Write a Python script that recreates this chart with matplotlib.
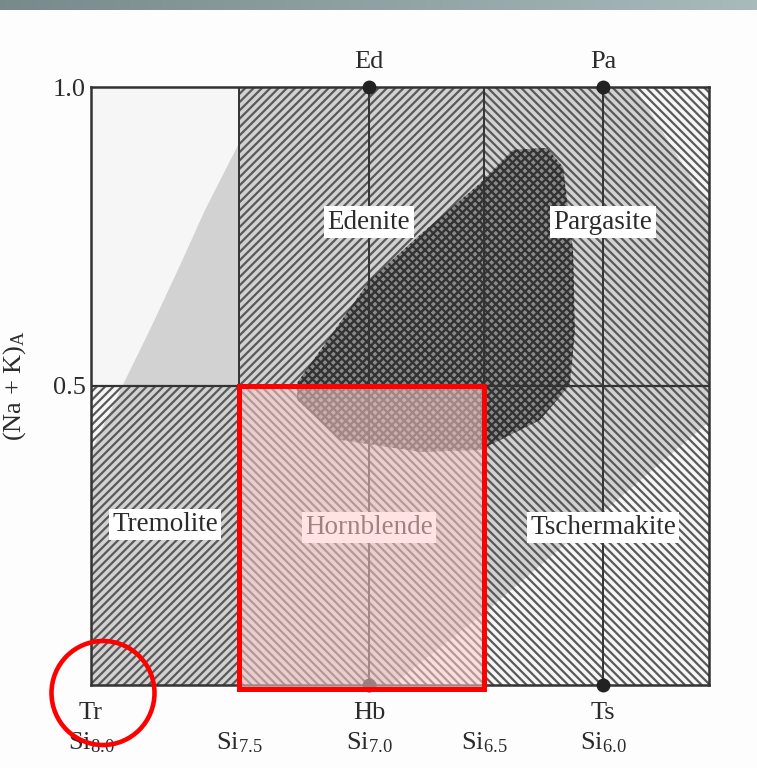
import numpy as np
import matplotlib
matplotlib.use("Agg")
import matplotlib.pyplot as plt
from matplotlib.patches import Rectangle, Polygon, Ellipse

# ---------------- data ----------------
field_names = ["Tremolite", "Hornblende", "Tschermakite", "Edenite", "Pargasite"]
field_si_hi = [8.0, 7.5, 6.5, 7.5, 6.5]
field_si_lo = [7.5, 6.5, 5.5, 6.5, 5.5]
field_nak_lo = [0.0, 0.0, 0.0, 0.5, 0.5]
field_nak_hi = [0.5, 0.5, 0.5, 1.0, 1.0]
field_label_si = [7.75, 7.0, 6.0, 7.0, 6.0]
field_label_nak = [0.268, 0.263, 0.263, 0.774, 0.774]

end_names = ["Tr", "Hb", "Ts", "Ed", "Pa"]
end_si = [8.0, 7.0, 6.0, 7.0, 6.0]
end_nak = [0.0, 0.0, 0.0, 1.0, 1.0]
end_dot = [False, True, True, True, True]

si_tick_vals = [8.0, 7.5, 7.0, 6.5, 6.0]
si_tick_text = ["8.0", "7.5", "7.0", "6.5", "6.0"]
nak_tick_vals = [0.5, 1.0]
nak_tick_text = ["0.5", "1.0"]

# light grey compositional field
light_si = [8.0, 8.0, 7.892, 7.801, 7.699, 7.615, 7.5, 7.5, 5.85, 5.5, 5.5, 6.5, 6.90]
light_nak = [0.0, 0.39, 0.502, 0.594, 0.702, 0.794, 0.906, 1.0, 1.0, 0.80, 0.44, 0.12, 0.0]
# dark compositional field
dark_si = [7.277, 7.277, 7.131, 6.996, 6.778, 6.517, 6.378, 6.235, 6.168, 6.126,
           6.118, 6.139, 6.265, 6.517, 6.778, 7.112]
dark_nak = [0.477, 0.505, 0.594, 0.677, 0.753, 0.839, 0.895, 0.898, 0.866, 0.727,
            0.594, 0.502, 0.443, 0.393, 0.390, 0.410]

# ---------------- style ----------------
plt.rcParams["font.family"] = ["Liberation Serif", "DejaVu Serif"]
plt.rcParams["mathtext.fontset"] = "custom"
plt.rcParams["mathtext.rm"] = "Liberation Serif"
plt.rcParams["mathtext.it"] = "Liberation Serif:italic"
plt.rcParams["hatch.linewidth"] = 1.6

TXT = "#2b2b2b"
LINE = "#333333"

# non-uniform Si axis (as drawn in the original scan)
SI_KNOTS = np.array([5.5, 6.0, 6.5, 7.0, 7.5, 8.0])
POS_KNOTS = np.array([0.0, 106.0, 225.0, 340.0, 470.0, 618.0])


def fwd(x):
    x = np.asarray(x, dtype=float)
    y = np.interp(x, SI_KNOTS, POS_KNOTS)
    s0 = (POS_KNOTS[1] - POS_KNOTS[0]) / (SI_KNOTS[1] - SI_KNOTS[0])
    s1 = (POS_KNOTS[-1] - POS_KNOTS[-2]) / (SI_KNOTS[-1] - SI_KNOTS[-2])
    y = np.where(x < SI_KNOTS[0], POS_KNOTS[0] + (x - SI_KNOTS[0]) * s0, y)
    y = np.where(x > SI_KNOTS[-1], POS_KNOTS[-1] + (x - SI_KNOTS[-1]) * s1, y)
    return y


def inv(p):
    p = np.asarray(p, dtype=float)
    x = np.interp(p, POS_KNOTS, SI_KNOTS)
    s0 = (SI_KNOTS[1] - SI_KNOTS[0]) / (POS_KNOTS[1] - POS_KNOTS[0])
    s1 = (SI_KNOTS[-1] - SI_KNOTS[-2]) / (POS_KNOTS[-1] - POS_KNOTS[-2])
    x = np.where(p < POS_KNOTS[0], SI_KNOTS[0] + (p - POS_KNOTS[0]) * s0, x)
    x = np.where(p > POS_KNOTS[-1], SI_KNOTS[-1] + (p - POS_KNOTS[-1]) * s1, x)
    return x


fig = plt.figure(figsize=(7.57, 7.68), dpi=100)
fig.patch.set_facecolor("#fdfdfd")

# top grey banner
band = fig.add_axes([0, 1 - 10 / 768, 1, 10 / 768])
grad = np.linspace(0, 1, 256)
c0 = np.array([0.47, 0.54, 0.55])
c1 = np.array([0.66, 0.73, 0.74])
img = (c0[None, :] * (1 - grad[:, None]) + c1[None, :] * grad[:, None])[None, :, :]
band.imshow(img, aspect="auto", extent=[0, 1, 0, 1])
band.axis("off")

ax = fig.add_axes([91 / 757, 83 / 768, 618 / 757, 598 / 768])
ax.set_xscale("function", functions=(fwd, inv))
ax.set_xlim(8.0, 5.5)
ax.set_ylim(0.0, 1.0)
ax.set_facecolor("#f6f6f6")

# compositional fields
ax.add_patch(Polygon(np.column_stack([light_si, light_nak]), closed=True,
                     facecolor="#d2d2d2", edgecolor="none", zorder=1))

# hatched classification fields
hatches = ["////", "\\\\\\\\", "\\\\\\\\", "////", "\\\\\\\\"]
for lo, hi, ylo, yhi, h in zip(field_si_lo, field_si_hi, field_nak_lo, field_nak_hi, hatches):
    ax.add_patch(Rectangle((hi, ylo), lo - hi, yhi - ylo, facecolor="none",
                           edgecolor="#5a5a5a", linewidth=0, hatch=h, zorder=2))

ax.add_patch(Polygon(np.column_stack([dark_si, dark_nak]), closed=True,
                     facecolor=(0.2, 0.2, 0.2, 0.45), edgecolor="#333333",
                     linewidth=0, hatch="xxxx", zorder=3))

# boundary lines
for v in [7.5, 7.0, 6.5, 6.0]:
    ax.axvline(v, color=LINE, lw=1.4, zorder=4)
ax.axhline(0.5, color=LINE, lw=1.6, zorder=4)
for sp in ax.spines.values():
    sp.set_color(LINE)
    sp.set_linewidth(1.8)
    sp.set_zorder(4)

# field labels
for name, xs, ys in zip(field_names, field_label_si, field_label_nak):
    ax.text(xs, ys, name, ha="center", va="center", fontsize=19.5, color=TXT,
            zorder=5, bbox=dict(boxstyle="square,pad=0.12", fc="white", ec="none"))

# end-members
for name, xs, ys, dot in zip(end_names, end_si, end_nak, end_dot):
    if dot:
        ax.plot([xs], [ys], "o", color="#222222", ms=9, zorder=6, clip_on=False)
    yt = 1.042 if ys > 0.5 else -0.046
    ax.text(xs, yt, name, ha="center", va="center", fontsize=19, color=TXT,
            clip_on=False)

# Si labels
ax.set_xticks([])
for v, t in zip(si_tick_vals, si_tick_text):
    ax.text(v, -0.097, r"$\mathrm{Si}_{%s}$" % t, ha="center", va="center",
            fontsize=19, color=TXT, clip_on=False)

ax.set_yticks(nak_tick_vals)
ax.set_yticklabels(nak_tick_text, fontsize=19, color=TXT)
ax.tick_params(axis="y", length=0, pad=4)
ax.set_ylabel(r"(Na + K)$_{\mathrm{A}}$", fontsize=19, color=TXT)
ax.yaxis.set_label_coords(-0.102, 0.5)

# red highlight of the hornblende field
ax.add_patch(Rectangle((7.5, -0.007), -1.0, 0.507, facecolor=(1.0, 0.8, 0.8, 0.55),
                       edgecolor="#ff0000", linewidth=3.6, zorder=7, clip_on=False))

# red circle around Tr
fig.patches.append(Ellipse((103 / 757, 1 - 693 / 768), 103 / 757, 104 / 768,
                           transform=fig.transFigure, facecolor="none",
                           edgecolor="#ff0000", linewidth=3.3, zorder=10))

fig.savefig("out.png", dpi=100, facecolor=fig.get_facecolor())
